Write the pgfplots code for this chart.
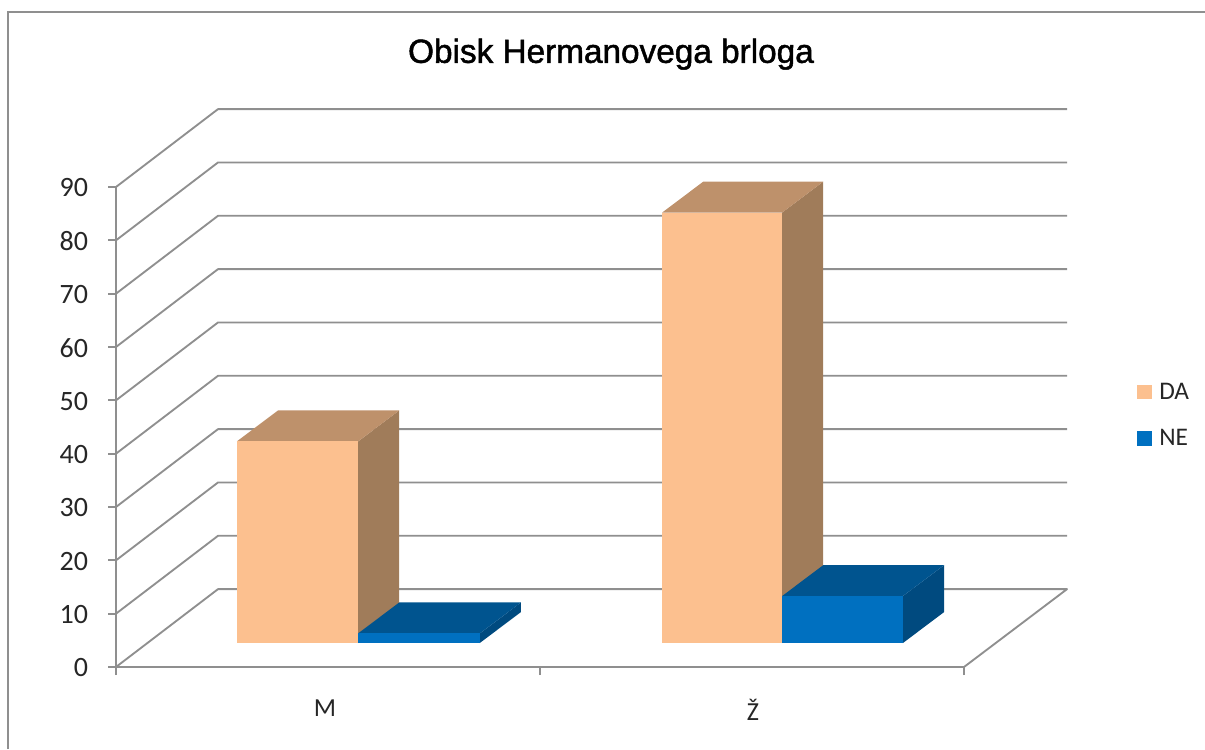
\documentclass[border=0pt]{standalone}
\usepackage{pgfplots}
\pgfplotsset{compat=1.18}
\usepackage{fontspec}
\setmainfont{Carlito}
\newfontfamily\titlefont[FakeBold=1.5]{Liberation Sans}
\definecolor{gridc}{HTML}{8F8F8F}
\definecolor{dafront}{HTML}{FCC08F}
\definecolor{datop}{HTML}{BE916B}
\definecolor{daside}{HTML}{A07C5A}
\definecolor{nefront}{HTML}{0070C0}
\definecolor{netop}{HTML}{00548F}
\definecolor{neside}{HTML}{004A7F}
\definecolor{txt}{HTML}{262626}
\pgfplotsset{
  wall/.style={forget plot,draw=gridc,line width=1.4pt,no markers,line join=round},
  face/.style={forget plot,draw=none,no markers,yshift=18pt,fill=#1},
}
\begin{document}
\begin{tikzpicture}
\useasboundingbox (0,0) rectangle (903.75pt,561.75pt);
\draw[gridc,line width=2pt] (6pt,0) -- (6pt,552.75pt) -- (903.75pt,552.75pt);
\begin{axis}[
  at={(87pt,61.5pt)},anchor=south west,
  scale only axis,width=636pt,height=360pt,
  xmin=0,xmax=2,ymin=0,ymax=90,
  clip=false,
  axis lines=left,
  axis line style={-,draw=gridc,line width=1.5pt},
  xtick={0,1,2},xticklabels={},
  extra x ticks={0.493,1.502},
  extra x tick labels={M,Ž},
  extra x tick style={major tick length=0pt,
    tick label style={font=\fontsize{19.5}{22}\selectfont,text=txt,yshift=-21pt}},
  ytick={0,10,...,90},
  tick style={draw=gridc,line width=1.5pt},
  major tick length=6pt,
  tick align=outside,
  y tick label style={font=\fontsize{21}{23}\selectfont,text=txt,xshift=-11.5pt,yshift=-0.6pt},
  /pgf/number format/assume math mode=true,
  title={\titlefont Obisk Hermanovega brloga},
  title style={at={(0.5837,1.26)},anchor=center,font=\fontsize{25}{27}\selectfont,text=black},
  legend style={at={(1.204,0.598)},anchor=north west,draw=none,fill=none,
    font=\fontsize{19}{21}\selectfont,text=txt,inner sep=0pt,row sep=17pt,
    /tikz/every even column/.style={column sep=0pt}},
  legend cell align=left,
  legend image code/.code={\path[draw=none,fill=none] (0pt,0pt) -- (14.5pt,0pt);\path[#1,draw=none] (0pt,-5.6pt) rectangle (11pt,5.6pt);},
]
% back-wall grid lines
\addplot[wall] coordinates {(2,0)(2.243,14.6)(0.2406,14.6)(0,0)};
\addplot[wall] coordinates {(0,10)(0.2406,24.6)(2.243,24.6)};
\addplot[wall] coordinates {(0,20)(0.2406,34.6)(2.243,34.6)};
\addplot[wall] coordinates {(0,30)(0.2406,44.6)(2.243,44.6)};
\addplot[wall] coordinates {(0,40)(0.2406,54.6)(2.243,54.6)};
\addplot[wall] coordinates {(0,50)(0.2406,64.6)(2.243,64.6)};
\addplot[wall] coordinates {(0,60)(0.2406,74.6)(2.243,74.6)};
\addplot[wall] coordinates {(0,70)(0.2406,84.6)(2.243,84.6)};
\addplot[wall] coordinates {(0,80)(0.2406,94.6)(2.243,94.6)};
\addplot[wall] coordinates {(0,90)(0.2406,104.6)(2.243,104.6)};
% M, DA
\addplot[face=daside] coordinates {(0.571,0)(0.571,37.8)(0.668,43.6)(0.668,5.8)};
\addplot[face=datop] coordinates {(0.285,37.8)(0.571,37.8)(0.668,43.6)(0.382,43.6)};
\addplot[face=dafront] coordinates {(0.285,0)(0.285,37.8)(0.571,37.8)(0.571,0)};
% M, NE
\addplot[face=neside] coordinates {(0.858,0)(0.858,1.8)(0.955,7.6)(0.955,5.8)};
\addplot[face=netop] coordinates {(0.571,1.8)(0.858,1.8)(0.955,7.6)(0.668,7.6)};
\addplot[face=nefront] coordinates {(0.571,0)(0.571,1.8)(0.858,1.8)(0.858,0)};
% Ž, DA
\addplot[face=daside] coordinates {(1.571,0)(1.571,80.7)(1.668,86.5)(1.668,5.8)};
\addplot[face=datop] coordinates {(1.288,80.7)(1.571,80.7)(1.668,86.5)(1.385,86.5)};
\addplot[face=dafront] coordinates {(1.288,0)(1.288,80.7)(1.571,80.7)(1.571,0)};
% Ž, NE
\addplot[face=neside] coordinates {(1.856,0)(1.856,8.8)(1.953,14.6)(1.953,5.8)};
\addplot[face=netop] coordinates {(1.571,8.8)(1.856,8.8)(1.953,14.6)(1.668,14.6)};
\addplot[face=nefront] coordinates {(1.571,0)(1.571,8.8)(1.856,8.8)(1.856,0)};
\addlegendimage{fill=dafront}
\addlegendentry{DA}
\addlegendimage{fill=nefront}
\addlegendentry{NE}
\end{axis}
\end{tikzpicture}
\end{document}
